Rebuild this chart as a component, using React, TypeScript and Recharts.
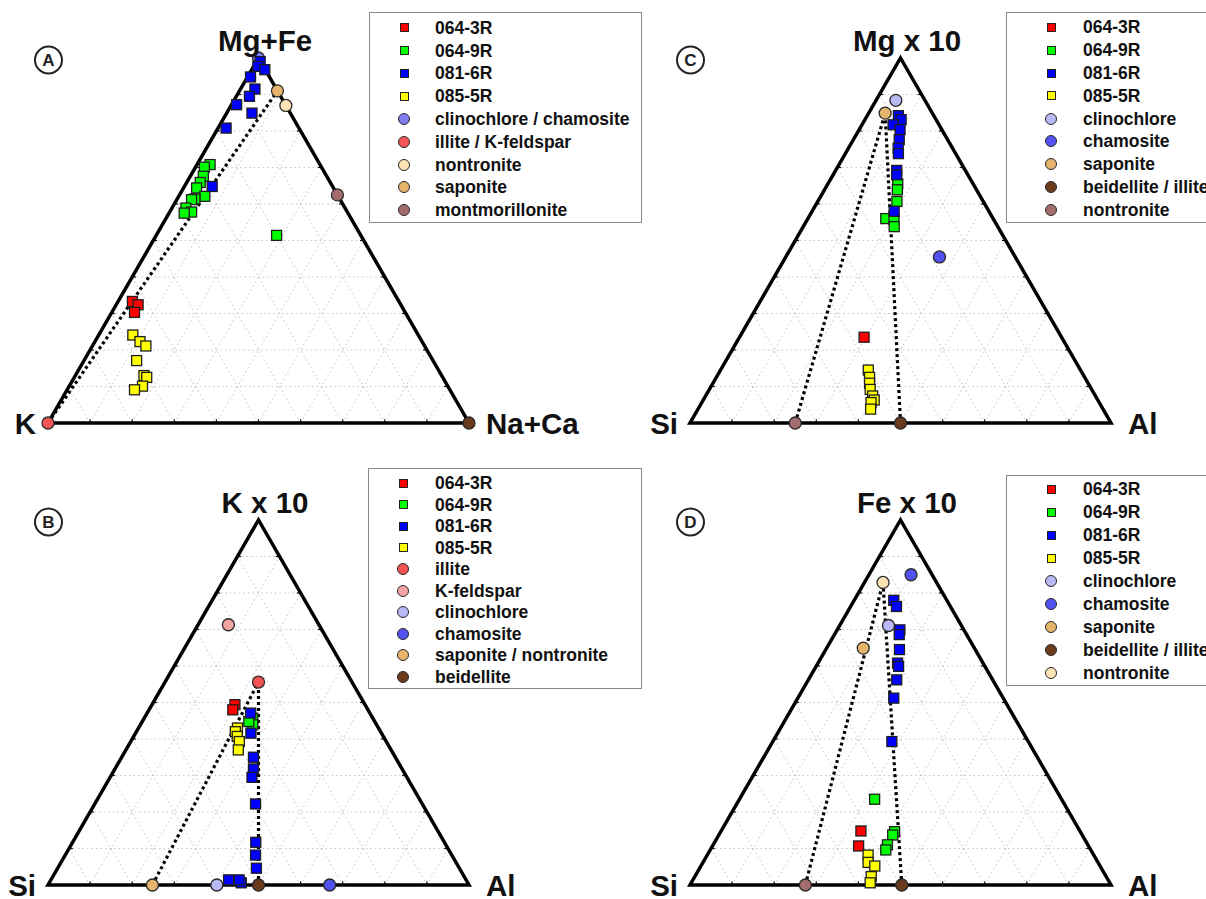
import React from "react";
import { ScatterChart, Scatter, XAxis, YAxis, ReferenceLine } from "recharts";

// every point is [top, right] as fractions of the triangle; left = 1 - top - right

// panel A: Mg+Fe / K / Na+Ca
const a064_3R = [[0.333, 0.034], [0.324, 0.052], [0.303, 0.054]];
const a064_9R = [
  [0.708, 0.031], [0.701, 0.021], [0.676, 0.031], [0.659, 0.032], [0.644, 0.031], [0.621, 0.062],
  [0.614, 0.042], [0.612, 0.035], [0.589, 0.033], [0.578, 0.052], [0.575, 0.036], [0.514, 0.286],
];
const a081_6R = [
  [0.99, 0.009], [0.977, 0.01], [0.968, 0.031], [0.948, 0.007], [0.915, 0.034], [0.895, 0.031],
  [0.872, 0.012], [0.849, 0.06], [0.808, 0.019], [0.648, 0.066],
];
const a085_5R = [
  [0.241, 0.081], [0.223, 0.107], [0.211, 0.127], [0.171, 0.125], [0.13, 0.163], [0.125, 0.172],
  [0.101, 0.174], [0.091, 0.16],
];
const mineralsA = [
  { name: "clinochlore / chamosite", p: [1, 0] },
  { name: "illite / K-feldspar", p: [0, 0] },
  { name: "nontronite", p: [0.87, 0.13] },
  { name: "saponite", p: [0.91, 0.09] },
  { name: "montmorillonite", p: [0.625, 0.375] },
  { name: "beidellite", p: [0, 1] },
];
const tiesA = [["illite / K-feldspar", "saponite"]];
const legendA = ["064-3R", "064-9R", "081-6R", "085-5R", "clinochlore / chamosite", "illite / K-feldspar", "nontronite", "saponite", "montmorillonite"];

// panel B: K x 10 / Si / Al
const b064_3R = [[0.494, 0.197], [0.48, 0.199]];
const b064_9R = [[0.457, 0.258], [0.439, 0.267], [0.448, 0.253]];
const b081_6R = [
  [0.471, 0.246], [0.416, 0.274], [0.35, 0.313], [0.318, 0.329], [0.295, 0.337], [0.222, 0.382],
  [0.117, 0.435], [0.082, 0.452], [0.046, 0.472], [0.014, 0.422], [0.006, 0.456], [0.014, 0.447],
];
const b085_5R = [[0.43, 0.235], [0.42, 0.235], [0.407, 0.246], [0.393, 0.258], [0.37, 0.267]];
const mineralsB = [
  { name: "illite", p: [0.556, 0.222] },
  { name: "K-feldspar", p: [0.713, 0.072] },
  { name: "clinochlore", p: [0, 0.401] },
  { name: "chamosite", p: [0, 0.669] },
  { name: "saponite / nontronite", p: [0, 0.248] },
  { name: "beidellite", p: [0, 0.5] },
];
const tiesB = [["saponite / nontronite", "illite"], ["beidellite", "illite"]];
const legendB = ["064-3R", "064-9R", "081-6R", "085-5R", "illite", "K-feldspar", "clinochlore", "chamosite", "saponite / nontronite", "beidellite"];

// panel C: Mg x 10 / Si / Al
const c064_3R = [[0.235, 0.296]];
const c064_9R = [[0.655, 0.166], [0.639, 0.173], [0.607, 0.188], [0.56, 0.185], [0.557, 0.206], [0.538, 0.216]];
const c081_6R = [
  [0.842, 0.074], [0.831, 0.086], [0.817, 0.074], [0.804, 0.097], [0.776, 0.109], [0.753, 0.118],
  [0.738, 0.126], [0.692, 0.145], [0.68, 0.151], [0.58, 0.195],
];
const c085_5R = [
  [0.145, 0.351], [0.125, 0.364], [0.109, 0.372], [0.092, 0.382], [0.074, 0.397], [0.063, 0.406],
  [0.056, 0.402], [0.038, 0.41],
];
const mineralsC = [
  { name: "clinochlore", p: [0.884, 0.047] },
  { name: "chamosite", p: [0.455, 0.365] },
  { name: "saponite", p: [0.849, 0.039] },
  { name: "beidellite / illite", p: [0, 0.5] },
  { name: "nontronite", p: [0, 0.25] },
];
const tiesC = [["nontronite", "saponite"], ["beidellite / illite", "saponite"]];
const legendC = ["064-3R", "064-9R", "081-6R", "085-5R", "clinochlore", "chamosite", "saponite", "beidellite / illite", "nontronite"];

// panel D: Fe x 10 / Si / Al
const d064_3R = [[0.148, 0.332], [0.107, 0.347]];
const d064_9R = [[0.235, 0.321], [0.146, 0.413], [0.137, 0.413], [0.11, 0.414], [0.096, 0.417]];
const d081_6R = [
  [0.78, 0.094], [0.763, 0.109], [0.699, 0.149], [0.686, 0.154], [0.645, 0.175], [0.608, 0.189],
  [0.599, 0.196], [0.562, 0.21], [0.512, 0.228], [0.393, 0.283],
];
const d085_5R = [[0.082, 0.382], [0.062, 0.392], [0.052, 0.413], [0.023, 0.419], [0.006, 0.425]];
const mineralsD = [
  { name: "clinochlore", p: [0.711, 0.116] },
  { name: "chamosite", p: [0.85, 0.1] },
  { name: "saponite", p: [0.649, 0.087] },
  { name: "beidellite / illite", p: [0, 0.503] },
  { name: "nontronite", p: [0.829, 0.044] },
  { name: "montmorillonite", p: [0, 0.274] },
];
const tiesD = [["montmorillonite", "nontronite"], ["beidellite / illite", "nontronite"]];
const legendD = ["064-3R", "064-9R", "081-6R", "085-5R", "clinochlore", "chamosite", "saponite", "beidellite / illite", "nontronite"];

const samples = ["064-3R", "064-9R", "081-6R", "085-5R"];
const gridSteps = [0.1, 0.2, 0.3, 0.4, 0.5, 0.6, 0.7, 0.8, 0.9];
const outline = [[0, 0.5], [0, 1], [1, 0], [0, 0], [0, 0.5]];

const sampleColors: Record<string, string> = {
  "064-3R": "#ff0000",
  "064-9R": "#00ff00",
  "081-6R": "#0000ff",
  "085-5R": "#ffff00",
};
const colorsA: Record<string, string> = {
  "clinochlore / chamosite": "#7f7ff2",
  "illite / K-feldspar": "#f25656",
  nontronite: "#fde3b6",
  saponite: "#e6b46c",
  montmorillonite: "#a46c6c",
  beidellite: "#6b3b1e",
};
const colorsB: Record<string, string> = {
  illite: "#f25252",
  "K-feldspar": "#f5a4a4",
  clinochlore: "#b9b9f5",
  chamosite: "#5252f0",
  "saponite / nontronite": "#e6b46c",
  beidellite: "#6b3b1e",
};
const colorsC: Record<string, string> = {
  clinochlore: "#b9b9f5",
  chamosite: "#5252f0",
  saponite: "#e6b46c",
  "beidellite / illite": "#6b3b1e",
  nontronite: "#a46c6c",
};
const colorsD: Record<string, string> = {
  clinochlore: "#b9b9f5",
  chamosite: "#5252f0",
  saponite: "#e6b46c",
  "beidellite / illite": "#6b3b1e",
  nontronite: "#fde3b6",
  montmorillonite: "#a46c6c",
};

const H = Math.sqrt(3) / 2;
const toXY = (p: number[]) => ({ x: p[1] + p[0] / 2, y: p[0] * H });
const FONT = '"Liberation Sans", Arial, Helvetica, sans-serif';

const NoDot = () => <g />;
const SquareDot = (props: any) => (
  <rect x={props.cx - 5} y={props.cy - 5} width={10} height={10} fill={props.fill} stroke="#1e1e1e" strokeWidth={1.3} />
);
const CircleDot = (props: any) => (
  <circle cx={props.cx} cy={props.cy} r={6} fill={props.fill} stroke="#2a2a2a" strokeWidth={1.3} />
);

function LegendBox({ items, colors, box }: any) {
  return (
    <div
      style={{
        position: "absolute",
        left: box.left,
        top: box.top,
        width: box.width,
        height: box.height,
        border: "1.5px solid #8a8a8a",
        boxSizing: "border-box",
        background: "#fff",
        fontFamily: FONT,
        fontWeight: "bold",
        fontSize: 17.5,
        color: "#111",
      }}
    >
      {items.map((name: string, i: number) => {
        const cy = box.first + i * box.step;
        const isSample = samples.includes(name);
        return (
          <div key={name}>
            {isSample ? (
              <div
                style={{
                  position: "absolute",
                  left: box.marker - 4.5,
                  top: cy - 4.5,
                  width: 9,
                  height: 9,
                  boxSizing: "border-box",
                  background: sampleColors[name],
                  border: "1.3px solid #222",
                }}
              />
            ) : (
              <div
                style={{
                  position: "absolute",
                  left: box.marker - 6,
                  top: cy - 6,
                  width: 12,
                  height: 12,
                  boxSizing: "border-box",
                  borderRadius: "50%",
                  background: colors[name],
                  border: "1.5px solid #2a2a2a",
                }}
              />
            )}
            <div
              style={{
                position: "absolute",
                left: box.text,
                top: cy - 11,
                height: 22,
                lineHeight: "22px",
                whiteSpace: "nowrap",
              }}
            >
              {name}
            </div>
          </div>
        );
      })}
    </div>
  );
}

function Ternary({ left, top, letter, title, leftLabel, rightLabel, series, minerals, colors, ties, legend, box }: any) {
  const at = (name: string) => toXY(minerals.find((m: any) => m.name === name).p);
  const grid = { stroke: "#c4c4c4", strokeWidth: 1, strokeDasharray: "1.5 3", ifOverflow: "visible" as const };
  const tick = { stroke: "#111", strokeWidth: 1.2, ifOverflow: "visible" as const };
  return (
    <div style={{ position: "absolute", left, top, width: 600, height: 450 }}>
      <ScatterChart width={600} height={450} margin={{ top: 58, right: 131, bottom: 27, left: 48 }}>
        <XAxis type="number" dataKey="x" domain={[0, 1]} hide />
        <YAxis type="number" dataKey="y" domain={[0, H]} hide />
        {gridSteps.map((k) => (
          <ReferenceLine key={"t" + k} segment={[{ x: k / 2, y: k * H }, { x: 1 - k / 2, y: k * H }]} {...grid} />
        ))}
        {gridSteps.map((k) => (
          <ReferenceLine key={"r" + k} segment={[{ x: k, y: 0 }, { x: k + (1 - k) / 2, y: (1 - k) * H }]} {...grid} />
        ))}
        {gridSteps.map((k) => (
          <ReferenceLine key={"l" + k} segment={[{ x: 1 - k, y: 0 }, { x: (1 - k) / 2, y: (1 - k) * H }]} {...grid} />
        ))}
        {gridSteps.map((k) => (
          <ReferenceLine key={"bt" + k} segment={[{ x: k, y: 0 }, { x: k, y: 0.009 }]} {...tick} />
        ))}
        {gridSteps.map((k) => (
          <ReferenceLine key={"lt" + k} segment={[{ x: k / 2, y: k * H }, { x: k / 2 + 0.009, y: k * H }]} {...tick} />
        ))}
        {gridSteps.map((k) => (
          <ReferenceLine key={"rt" + k} segment={[{ x: 1 - k / 2, y: k * H }, { x: 1 - k / 2 - 0.009, y: k * H }]} {...tick} />
        ))}
        {ties.map((pair: string[], i: number) => (
          <Scatter
            key={"tie" + i}
            data={[at(pair[0]), at(pair[1])]}
            line={{ stroke: "#000", strokeWidth: 3.2, strokeDasharray: "3 3" }}
            shape={NoDot}
            isAnimationActive={false}
          />
        ))}
        <Scatter
          data={outline.map(toXY)}
          line={{ stroke: "#000", strokeWidth: 3.5, strokeLinejoin: "miter" }}
          shape={NoDot}
          isAnimationActive={false}
        />
        {minerals.map((m: any) => (
          <Scatter key={m.name} data={[toXY(m.p)]} fill={colors[m.name]} shape={CircleDot} isAnimationActive={false} />
        ))}
        {samples.map((s) => (
          <Scatter key={s} data={series[s].map(toXY)} fill={sampleColors[s]} shape={SquareDot} isAnimationActive={false} />
        ))}
      </ScatterChart>
      <svg
        width={600}
        height={450}
        style={{ position: "absolute", left: 0, top: 0, pointerEvents: "none", overflow: "visible" }}
        fontFamily={FONT}
        fontWeight="bold"
      >
        <circle cx={48.5} cy={60} r={13.5} fill="none" stroke="#222" strokeWidth={2} />
        <text x={48.5} y={66.2} fontSize={17} textAnchor="middle" fill="#222">
          {letter}
        </text>
        <text x={265} y={51} fontSize={29.5} textAnchor="middle" fill="#111">
          {title}
        </text>
        <text x={36} y={434} fontSize={29.5} textAnchor="end" fill="#111">
          {leftLabel}
        </text>
        <text x={486} y={434} fontSize={29.5} textAnchor="start" fill="#111">
          {rightLabel}
        </text>
      </svg>
      <LegendBox items={legend} colors={colors} box={box} />
    </div>
  );
}

export default function App() {
  return (
    <div style={{ position: "absolute", left: 0, top: 0, width: 1206, height: 899, overflow: "hidden", background: "#fff" }}>
      <Ternary
        left={0}
        top={0}
        letter="A"
        title="Mg+Fe"
        leftLabel="K"
        rightLabel="Na+Ca"
        series={{ "064-3R": a064_3R, "064-9R": a064_9R, "081-6R": a081_6R, "085-5R": a085_5R }}
        minerals={mineralsA}
        colors={colorsA}
        ties={tiesA}
        legend={legendA}
        box={{ left: 369, top: 12, width: 273, height: 211, marker: 34, text: 65, first: 14.7, step: 22.8 }}
      />
      <Ternary
        left={0}
        top={462}
        letter="B"
        title="K x 10"
        leftLabel="Si"
        rightLabel="Al"
        series={{ "064-3R": b064_3R, "064-9R": b064_9R, "081-6R": b081_6R, "085-5R": b085_5R }}
        minerals={mineralsB}
        colors={colorsB}
        ties={tiesB}
        legend={legendB}
        box={{ left: 368, top: 6, width: 274, height: 221, marker: 34, text: 66, first: 14.4, step: 21.5 }}
      />
      <Ternary
        left={642}
        top={0}
        letter="C"
        title="Mg x 10"
        leftLabel="Si"
        rightLabel="Al"
        series={{ "064-3R": c064_3R, "064-9R": c064_9R, "081-6R": c081_6R, "085-5R": c085_5R }}
        minerals={mineralsC}
        colors={colorsC}
        ties={tiesC}
        legend={legendC}
        box={{ left: 364, top: 12, width: 273, height: 211, marker: 44, text: 76, first: 14.4, step: 22.8 }}
      />
      <Ternary
        left={642}
        top={462}
        letter="D"
        title="Fe x 10"
        leftLabel="Si"
        rightLabel="Al"
        series={{ "064-3R": d064_3R, "064-9R": d064_9R, "081-6R": d081_6R, "085-5R": d085_5R }}
        minerals={mineralsD}
        colors={colorsD}
        ties={tiesD}
        legend={legendD}
        box={{ left: 364, top: 13, width: 273, height: 211, marker: 44, text: 76, first: 13.3, step: 23 }}
      />
    </div>
  );
}
